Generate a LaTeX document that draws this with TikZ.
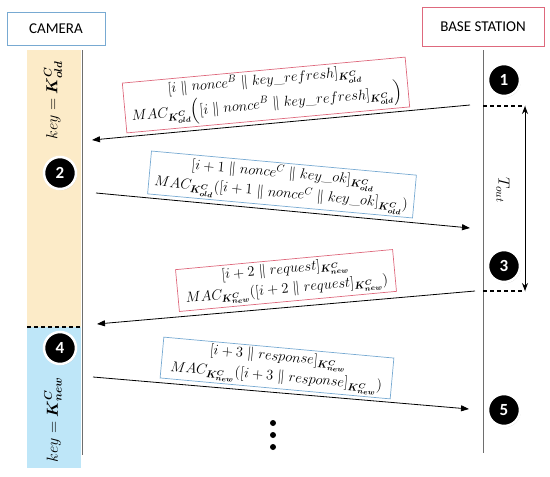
\RequirePackage{fix-cm}
\documentclass[tikz,border=0pt]{standalone}
\usepackage{amsmath,bm}
\usepackage{fontspec}
\setsansfont{Carlito}
\usetikzlibrary{shadows,arrows.meta}
\definecolor{bandY}{RGB}{252,235,200}
\definecolor{bandB}{RGB}{190,230,248}
\definecolor{boxR}{RGB}{222,105,125}
\definecolor{boxB}{RGB}{120,170,210}
\definecolor{life}{RGB}{110,110,110}
\newcommand{\Kold}{\bm{K^{C}_{old}}}
\newcommand{\Knew}{\bm{K^{C}_{new}}}
\begin{document}
\begin{tikzpicture}[x=1pt,y=-1pt,
  actor/.style={draw, line width=0.8pt, inner sep=0pt, font=\sffamily\fontsize{15}{17}\selectfont},
  msg/.style={draw, line width=0.7pt, align=center, inner sep=1pt, font=\fontsize{14.5}{20}\selectfont},
  num/.style={circle, fill=black, draw=white, line width=2.5pt, minimum size=32pt, inner sep=0pt,
    text=white, font=\sffamily\bfseries\fontsize{17}{17}\selectfont,
    drop shadow={opacity=0.35, shadow xshift=0.8pt, shadow yshift=-1.2pt}},
  arr/.style={-{Triangle[length=8pt,width=6pt]}, line width=0.8pt},
  lifeline/.style={draw=life, line width=0.8pt},
  timer/.style={dashed, line width=1.2pt, dash pattern=on 4pt off 3pt},
  keylabel/.style={rotate=90, font=\fontsize{16}{18}\selectfont},
  dotnode/.style={circle, fill=black, inner sep=0pt, minimum size=6pt}
]
\useasboundingbox (0,0) rectangle (550,477);

% bands
\fill[bandY] (27,50) rectangle (81,327);
\fill[bandB] (27,327) rectangle (81,468);
\draw[timer] (27,327) -- (81,327);

% actors
\node[actor, draw=boxB, minimum width=98pt, minimum height=33pt] (cam) at (56,28.5) {CAMERA};
\node[actor, draw=boxR, minimum width=122pt, minimum height=39pt] (bs) at (483,26.5) {BASE STATION};

% lifelines
\coordinate (camtop) at (82,50);
\coordinate (cambot) at (82,455);
\coordinate (bstop) at (483,50);
\coordinate (bsbot) at (483,453);
\draw[lifeline] (camtop) -- (cambot);
\draw[lifeline] (bstop) -- (bsbot);

% key labels
\node[keylabel] (k1) at (53,100) {$key = \Kold$};
\node[keylabel] (k2) at (53,420) {$key = \Knew$};

% messages
\node[msg, draw=boxR, rotate=5.25, minimum width=284pt, minimum height=50pt] (m1) at (266,95)
  {$[i \parallel nonce^{B} \parallel key\_refresh]_{\Kold}$\\
   $MAC_{\Kold}\Big([i \parallel nonce^{B} \parallel key\_refresh]_{\Kold}\Big)$};
\node[msg, draw=boxB, rotate=-5.2, minimum width=266pt, minimum height=43pt] (m2) at (282,184.5)
  {$[i+1 \parallel nonce^{C} \parallel key\_ok]_{\Kold}$\\
   $MAC_{\Kold}([i+1 \parallel nonce^{C} \parallel key\_ok]_{\Kold})$};
\node[msg, draw=boxR, rotate=5.3, minimum width=218pt, minimum height=42pt] (m3) at (286,280.5)
  {$[i+2 \parallel request]_{\Knew}$\\
   $MAC_{\Knew}([i+2 \parallel request]_{\Knew})$};
\node[msg, draw=boxB, rotate=-5.2, minimum width=231pt, minimum height=41pt] (m4) at (277,368)
  {$[i+3 \parallel response]_{\Knew}$\\
   $MAC_{\Knew}([i+3 \parallel response]_{\Knew})$};

% arrow ends
\coordinate (a1s) at (470,105);
\coordinate (a1e) at (92,140);
\coordinate (a2s) at (96,193);
\coordinate (a2e) at (470,228);
\coordinate (a3s) at (475,291);
\coordinate (a3e) at (97,324);
\coordinate (a4s) at (93,377);
\coordinate (a4e) at (469,409);
\draw[arr] (a1s) -- (a1e);
\draw[arr] (a2s) -- (a2e);
\draw[arr] (a3s) -- (a3e);
\draw[arr] (a4s) -- (a4e);

% timer
\coordinate (t1l) at (483,106);
\coordinate (t1r) at (525,106);
\coordinate (t2l) at (483,291);
\coordinate (t2r) at (525,291);
\draw[timer] (t1l) -- (t1r);
\draw[timer] (t2l) -- (t2r);
\draw[{Stealth[length=8pt,width=6pt]}-{Stealth[length=8pt,width=6pt]}, line width=0.8pt] (t1r) -- (t2r);
\node[rotate=-90, font=\fontsize{16}{18}\selectfont] (tout) at (503,190) {$T_{out}$};

% step numbers
\node[num] (c1) at (504,80) {1};
\node[num] (c2) at (60,173) {2};
\node[num] (c3) at (504,266) {3};
\node[num] (c4) at (60,348) {4};
\node[num] (c5) at (504,410) {5};

% dots
\node[dotnode] (d1) at (273,423) {};
\node[dotnode] (d2) at (273,435) {};
\node[dotnode] (d3) at (273,447) {};
\end{tikzpicture}
\end{document}
